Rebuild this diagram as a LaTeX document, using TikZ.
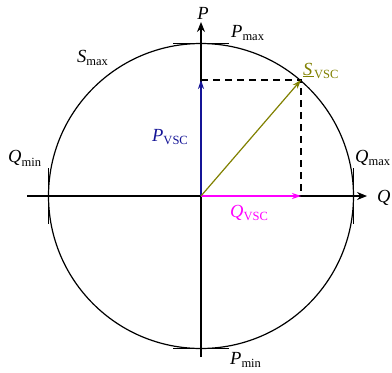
\documentclass[tikz,border=0pt]{standalone}
\usepackage{fontspec}
\setmainfont{Liberation Serif}
\usetikzlibrary{arrows.meta}
\definecolor{olivec}{RGB}{128,128,0}
\definecolor{navyc}{RGB}{20,20,150}
\definecolor{magc}{RGB}{255,0,255}
\newcommand\lsub[1]{\raisebox{-0.45ex}{\fontsize{12.5}{13}\selectfont #1}}
\newcommand\ulS{\rlap{\textit{S}}\rule[-2.2pt]{11pt}{0.9pt}}
\begin{document}
\begin{tikzpicture}[x=1pt,y=-1pt,
  lbl/.style={inner sep=0pt,font=\fontsize{18.5}{20}\selectfont},
  axis/.style={line width=1.1pt,-{Stealth[length=10pt,width=8pt]}},
  vec/.style={line width=1.2pt,-{Stealth[length=9pt,width=6pt]}},
  lim/.style={line width=1.6pt},
  dashline/.style={line width=1.2pt,dash pattern=on 7pt off 5pt}]
\useasboundingbox (0,0) rectangle (392,373);
\coordinate (O) at (201,196);
\coordinate (S) at (301,80);
\coordinate (Pv) at (201,80);
\coordinate (Qv) at (301,196);
\coordinate (xl) at (27,196);
\coordinate (xr) at (367,196);
\coordinate (yb) at (201,357);
\coordinate (yt) at (201,22);
\draw[line width=1.2pt] (O) circle (152.5);
\draw[lim] (173,43.5) -- (229,43.5);
\draw[lim] (173,348.5) -- (229,348.5);
\draw[lim] (48.5,168) -- (48.5,224);
\draw[lim] (353.5,168) -- (353.5,224);
\draw[axis] (xl) -- (xr);
\draw[axis] (yb) -- (yt);
\draw[dashline] (Pv) -- (S) -- (Qv);
\draw[vec,navyc] (O) -- (Pv);
\draw[vec,magc] (O) -- (Qv);
\draw[vec,olivec] (O) -- (S);
\node[lbl] (lP) at (203,13) {\textit{P}};
\node[lbl,anchor=west] (lPmax) at (231,33) {\textit{P}\lsub{max}};
\node[lbl,anchor=west] (lPmin) at (230,360) {\textit{P}\lsub{min}};
\node[lbl,anchor=west] (lSmax) at (77,58) {\textit{S}\lsub{max}};
\node[lbl,anchor=west,text=olivec] (lS) at (303,71) {\ulS\lsub{VSC}};
\node[lbl,anchor=west] (lQmin) at (8,158) {\textit{Q}\lsub{min}};
\node[lbl,anchor=west] (lQmax) at (355,158) {\textit{Q}\lsub{max}};
\node[lbl,anchor=west] (lQ) at (377,198) {\textit{Q}};
\node[lbl,anchor=west,text=navyc] (lPv) at (152,137) {\textit{P}\lsub{VSC}};
\node[lbl,anchor=west,text=magc] (lQv) at (230,213) {\textit{Q}\lsub{VSC}};
\end{tikzpicture}
\end{document}
